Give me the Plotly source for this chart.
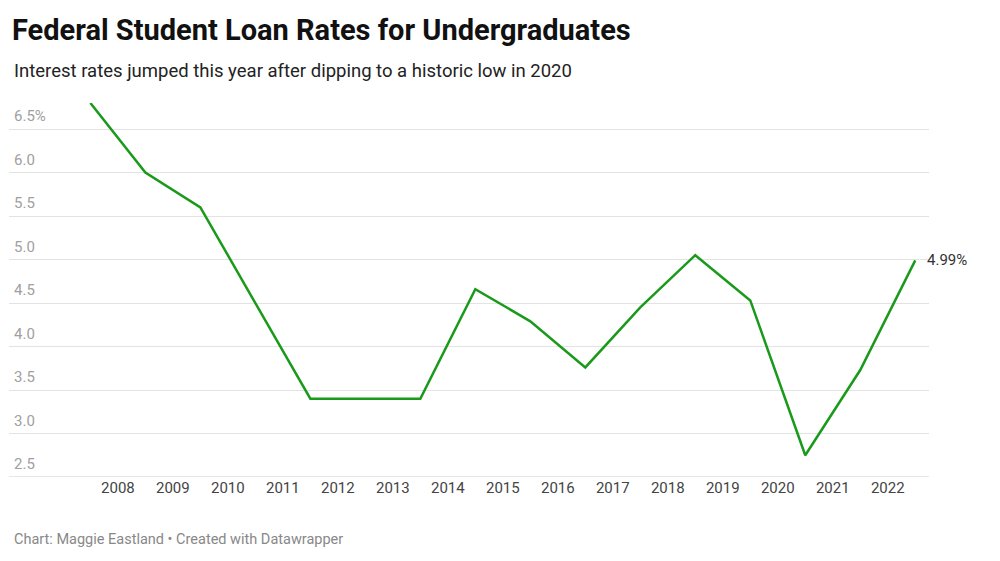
import plotly.graph_objects as go

years = [2007.5 + i for i in range(16)]
rates = [6.8, 6.0, 5.6, 4.5, 3.4, 3.4, 3.4, 4.66, 4.29, 3.76, 4.45, 5.05, 4.53, 2.75, 3.73, 4.99]
x_ticks = list(range(2008, 2023))
y_ticks = [2.5, 3.0, 3.5, 4.0, 4.5, 5.0, 5.5, 6.0, 6.5]
y_labels = ["2.5", "3.0", "3.5", "4.0", "4.5", "5.0", "5.5", "6.0", "6.5%"]

ML, MR, MT, MB = 1, 79, 95, 92
PW, PH = 1000 - ML - MR, 561 - MT - MB

fig = go.Figure(go.Scatter(x=years, y=rates, mode="lines",
                           line=dict(color="#1a9a1a", width=2.5), hoverinfo="skip"))
for v, t in zip(y_ticks, y_labels):
    fig.add_annotation(x=(4 - ML) / PW, xref="paper", y=v, yref="y", text=t, showarrow=False,
                       xanchor="left", yanchor="bottom", yshift=2, font=dict(size=15, color="#a0a0a0"))
fig.add_annotation(x=years[-1], y=rates[-1], text="4.99%", showarrow=False, xanchor="left",
                   xshift=10, font=dict(size=15, color="#333"))
fig.update_layout(
    width=1000, height=561, plot_bgcolor="white", paper_bgcolor="white",
    margin=dict(l=ML, r=MR, t=MT, b=MB), showlegend=False,
    font=dict(family="Roboto", color="#333"),
    title=dict(text="<b>Federal Student Loan Rates for Undergraduates</b>", x=4 / 1000, xanchor="left",
               y=1 - 22 / 561, yanchor="middle", font=dict(size=29, color="#111")),
    xaxis=dict(range=[2006.02, 2022.75], tickvals=x_ticks, showgrid=False, zeroline=False,
               tickfont=dict(size=15, color="#444"), showline=False, ticks=""),
    yaxis=dict(range=[2.5, 6.8], tickvals=y_ticks, showticklabels=False, gridcolor="#e3e3e3",
               zeroline=False, showline=False),
)
fig.add_shape(type="line", xref="paper", yref="y", x0=0, x1=1, y0=2.5, y1=2.5, line=dict(color="#ccc", width=1))

def py(pix):
    return (561 - MB - pix) / PH

fig.add_annotation(x=(4 - ML) / PW, xref="paper", xanchor="left", y=py(63), yref="paper", yanchor="middle",
                   text="Interest rates jumped this year after dipping to a historic low in 2020",
                   showarrow=False, font=dict(size=18.5, color="#222"))
fig.add_annotation(x=(4 - ML) / PW, xref="paper", xanchor="left", y=py(531), yref="paper", yanchor="middle",
                   text="Chart: Maggie Eastland • Created with Datawrapper",
                   showarrow=False, font=dict(size=14.5, color="#888"))
fig.write_html("out.html")
